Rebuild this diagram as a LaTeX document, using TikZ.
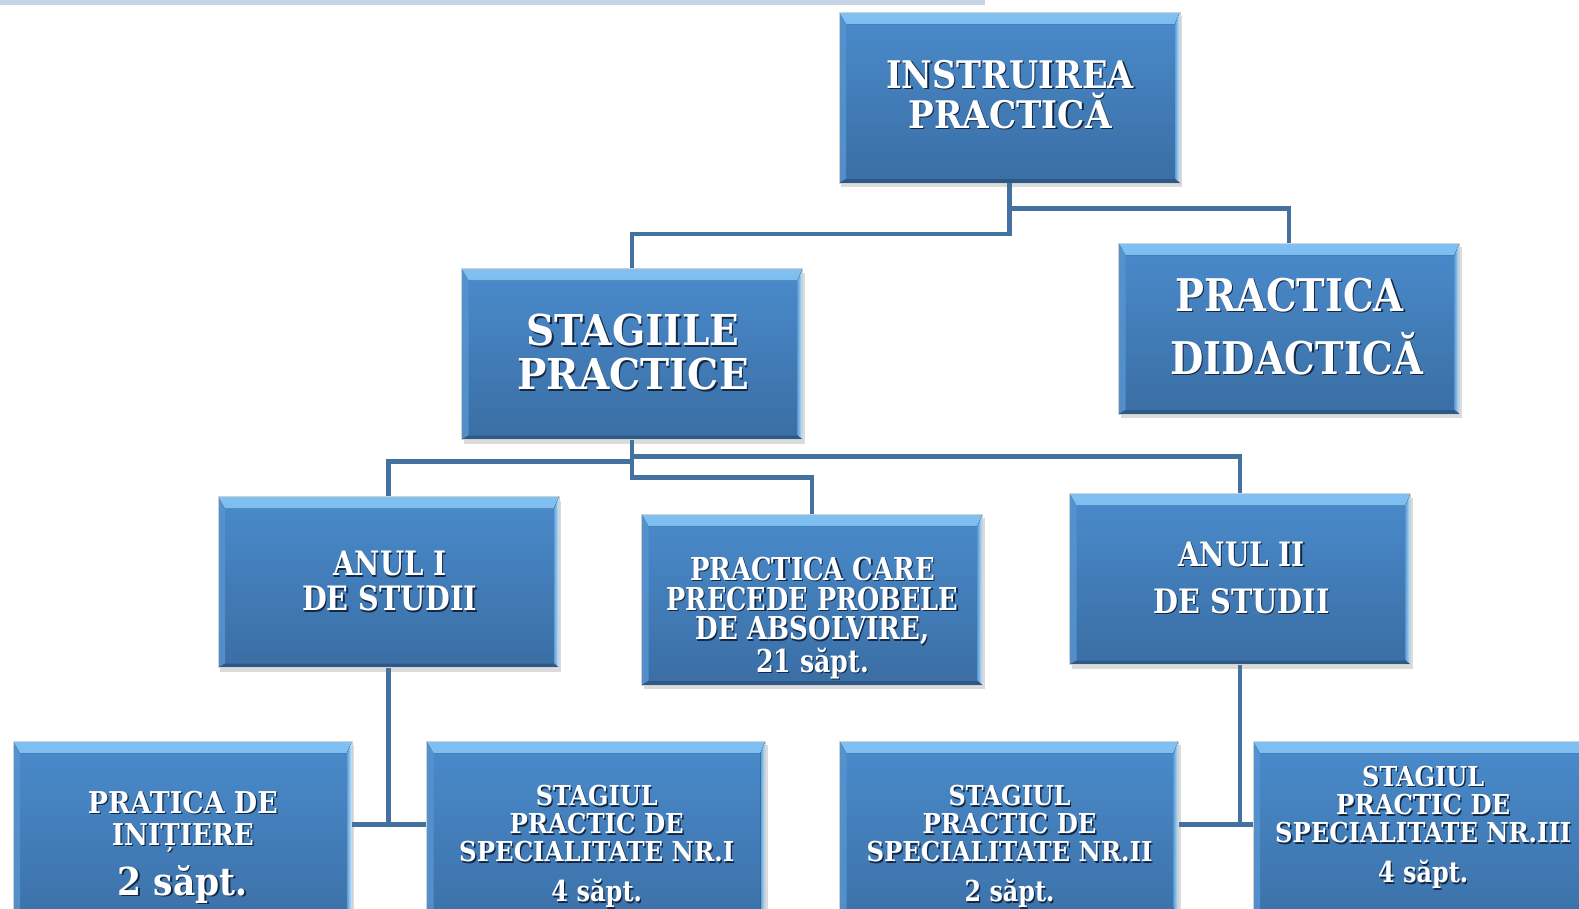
\documentclass[tikz,border=0pt]{standalone}
\usepackage{fontspec}
\setmainfont{DejaVu Serif}
\usepackage{graphicx}
\usetikzlibrary{shadows}
\definecolor{boxtop}{RGB}{74,139,204}
\definecolor{boxbot}{RGB}{58,110,164}
\definecolor{bevhi}{RGB}{128,192,242}
\definecolor{bevmid}{RGB}{84,150,214}
\definecolor{bevleft}{RGB}{86,146,206}
\definecolor{bevright}{RGB}{205,238,255}
\definecolor{bevbot}{RGB}{46,88,134}
\definecolor{conn}{RGB}{68,114,160}
\definecolor{topbar}{RGB}{198,212,230}
\definecolor{tshadow}{RGB}{20,40,70}
\newcommand\boxline[2]{\resizebox{#1pt}{\height}{\rlap{\kern1.5pt\raisebox{-1.5pt}{\textcolor{tshadow}{#2}}}#2}}
\tikzset{
  bx/.style={minimum width=341pt, minimum height=171pt, inner sep=0pt,
    top color=boxtop, bottom color=boxbot, draw=gray!35, line width=0.5pt,
    drop shadow={opacity=0.28, shadow xshift=2pt, shadow yshift=-4pt},
    path picture={
      \fill[top color=bevhi, bottom color=bevmid]
        (path picture bounding box.north west) -- (path picture bounding box.north east)
        -- ([xshift=-5pt,yshift=-12pt]path picture bounding box.north east)
        -- ([xshift=7pt,yshift=-12pt]path picture bounding box.north west) -- cycle;
      \fill[bevleft, opacity=0.9]
        (path picture bounding box.north west) -- ([xshift=7pt,yshift=-12pt]path picture bounding box.north west)
        -- ([xshift=7pt,yshift=4pt]path picture bounding box.south west) -- (path picture bounding box.south west) -- cycle;
      \fill[left color=boxtop!80!bevright, right color=bevright]
        (path picture bounding box.north east) -- ([xshift=-5pt,yshift=-12pt]path picture bounding box.north east)
        -- ([xshift=-5pt,yshift=4pt]path picture bounding box.south east) -- (path picture bounding box.south east) -- cycle;
      \fill[bevbot]
        (path picture bounding box.south west) -- ([xshift=7pt,yshift=4pt]path picture bounding box.south west)
        -- ([xshift=-5pt,yshift=4pt]path picture bounding box.south east) -- (path picture bounding box.south east) -- cycle;
    }},
  bxlow/.style={bx, minimum width=339pt, minimum height=200pt},
  txt/.style={text=white, align=center, inner sep=0pt},
  cn/.style={draw=conn, line width=4.6pt}
}
\begin{document}
\begin{tikzpicture}[x=1pt,y=-1pt]
\useasboundingbox (0,0) rectangle (1579,908);
\clip (0,0) rectangle (1579,908);
\fill[white] (0,0) rectangle (1579,908);
\fill[topbar] (0,0) rectangle (985,5);

% boxes
\node[bx] (b1) at (1009.5,97.5) {};
\node[bx] (b2) at (632,354) {};
\node[bx] (b3) at (1289,328.5) {};
\node[bx] (b4) at (388.5,582) {};
\node[bx] (b5) at (812,599.5) {};
\node[bx] (b6) at (1240,579) {};
\node[bxlow] (b7) at (182.5,841) {};
\node[bxlow] (b8) at (596,841) {};
\node[bxlow] (b9) at (1009,841) {};
\node[bxlow, minimum width=341pt] (b10) at (1423.5,841) {};

% connectors
\draw[cn] (b1.south) -- ++(0,25.5) -| (b3.north);
\draw[cn] (b1.south) -- ++(0,50.6) -| (b2.north);
\draw[cn] (b2.south) -- ++(0,16.5) -| (b6.north);
\draw[cn] (b2.south) -- ++(0,21.5) -| (b4.north);
\draw[cn] (b2.south) -- ++(0,37.5) -| (b5.north);
\draw[cn] (b4.south) -- ++(0,156.5) coordinate (j4);
\draw[cn] (b7.east |- j4) -- (b8.west |- j4);
\draw[cn] (b6.south) -- ++(0,159.5) coordinate (j6);
\draw[cn] (b9.east |- j6) -- (b10.west |- j6);

% texts
\node[txt, font=\bfseries\fontsize{38}{40}\selectfont] (t1) at (1010,95)
  {\boxline{248}{INSTRUIREA}\\\boxline{203}{PRACTICĂ}};
\node[txt, font=\bfseries\fontsize{42.5}{44}\selectfont] (t2) at (633,353)
  {\boxline{212.5}{STAGIILE}\\\boxline{231.6}{PRACTICE}};
\node[txt, font=\bfseries\fontsize{45}{63}\selectfont] (t3) at (1289.5,327)
  {\boxline{228.6}{PRACTICA}\\\hspace*{14pt}\boxline{252.8}{DIDACTICĂ}};
\node[txt, font=\bfseries\fontsize{33.6}{34.7}\selectfont] (t4) at (389.7,582)
  {\boxline{112.8}{ANUL I}\\\boxline{175.2}{DE STUDII}};
\node[txt, font=\bfseries\fontsize{31.5}{29.9}\selectfont] (t5) at (812.5,618.4)
  {\boxline{244.7}{PRACTICA CARE}\\\boxline{292}{PRECEDE PROBELE}\\\boxline{233.6}{DE ABSOLVIRE,}\\\boxline{112.8}{21 săpt.}};
\node[txt, font=\bfseries\fontsize{33.6}{47}\selectfont] (t6) at (1241.5,578.3)
  {\boxline{126.9}{ANUL II}\\\boxline{176.2}{DE STUDII}};
\node[txt, font=\bfseries\fontsize{30}{32.2}\selectfont] (t7) at (182.8,822.2)
  {\boxline{190}{PRATICA DE}\\\boxline{142}{INIȚIERE}};
\node[txt, anchor=base, font=\bfseries\fontsize{38.5}{40}\selectfont] (d7) at (182.8,895)
  {\boxline{130}{2 săpt.}};
\node[txt, font=\bfseries\fontsize{27.4}{28.2}\selectfont] (t8) at (596.7,824.5)
  {\boxline{121.8}{STAGIUL}\\\boxline{174.2}{PRACTIC DE}\\\boxline{275}{SPECIALITATE NR.I}};
\node[txt, anchor=base, font=\bfseries\fontsize{28.8}{30}\selectfont] (d8) at (596.7,901.5)
  {\boxline{90.6}{4 săpt.}};
\node[txt, font=\bfseries\fontsize{27.4}{28.2}\selectfont] (t9) at (1009.5,824.5)
  {\boxline{122}{STAGIUL}\\\boxline{174}{PRACTIC DE}\\\boxline{286}{SPECIALITATE NR.II}};
\node[txt, anchor=base, font=\bfseries\fontsize{28.8}{30}\selectfont] (d9) at (1009.5,901.5)
  {\boxline{89.6}{2 săpt.}};
\node[txt, font=\bfseries\fontsize{27.4}{28.2}\selectfont] (t10) at (1423.2,805.4)
  {\boxline{122}{STAGIUL}\\\boxline{174}{PRACTIC DE}\\\boxline{296}{SPECIALITATE NR.III}};
\node[txt, anchor=base, font=\bfseries\fontsize{28.8}{30}\selectfont] (d10) at (1423.2,882.5)
  {\boxline{90}{4 săpt.}};
\end{tikzpicture}
\end{document}
